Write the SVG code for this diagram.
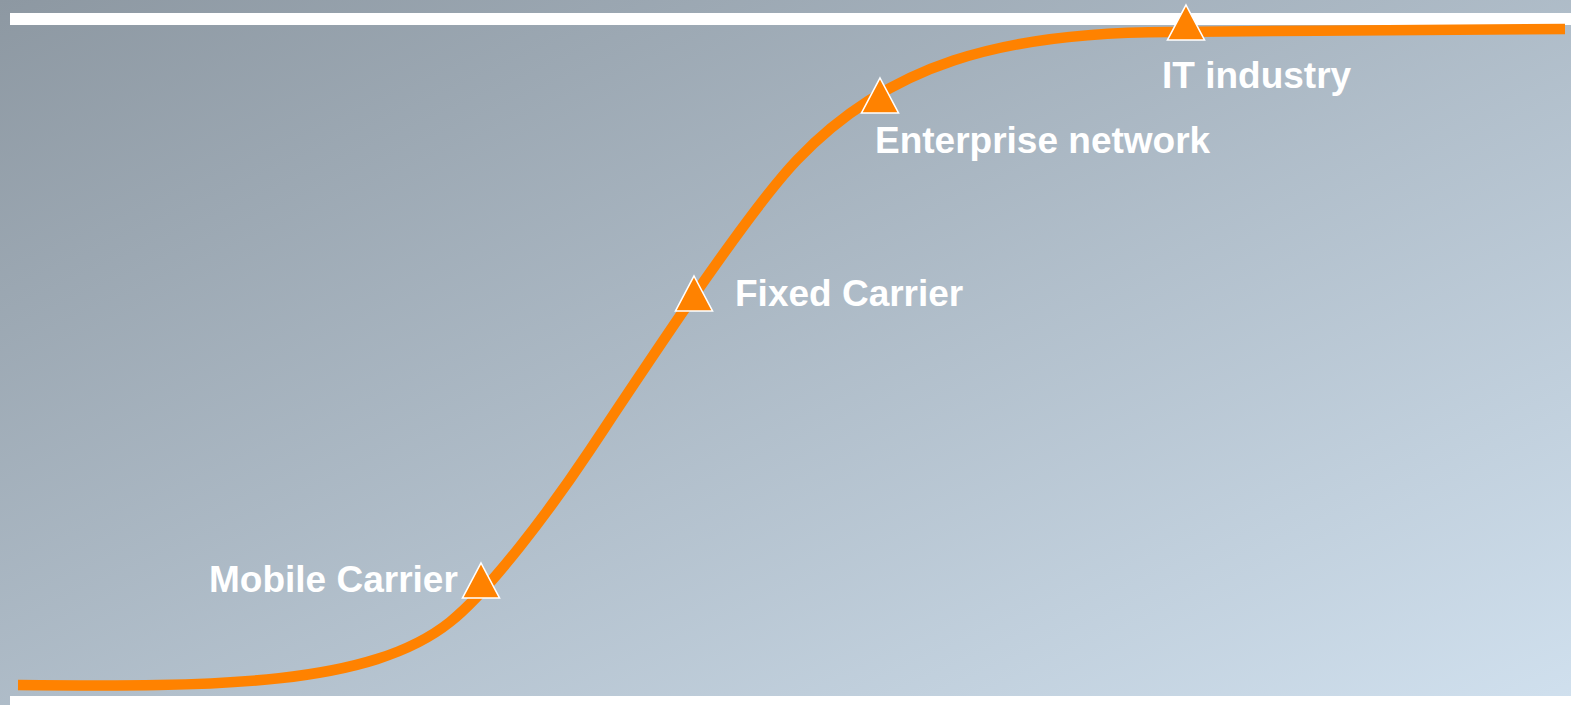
<svg xmlns="http://www.w3.org/2000/svg" width="1571" height="705" viewBox="0 0 1571 705">
  <defs>
    <linearGradient id="bg" x1="0" y1="0" x2="1" y2="1">
      <stop offset="0" stop-color="#8d98a2"/>
      <stop offset="1" stop-color="#d0e0ee"/>
    </linearGradient>
    <style>
      .bar { fill: #ffffff; }
      .curve { fill: none; stroke: #ff8200; stroke-width: 10.5; stroke-linecap: butt; }
      .tri { fill: #ff8200; stroke: #ffffff; stroke-width: 1.6; stroke-linejoin: miter; }
      .lbl { font-family: "Liberation Sans", Arial, sans-serif; font-weight: bold; font-size: 37px; fill: #ffffff; }
    </style>
  </defs>
  <rect x="0" y="0" width="1571" height="705" fill="url(#bg)"/>
  <rect class="bar" x="10" y="13" width="1561" height="12"/>
  <rect class="bar" x="10" y="696" width="1561" height="9"/>
  <g id="connectors">
    <path class="curve" d="M18,685 C218,687 370,686 450,622 C490,590 550,510 590,450 C650,360 747,212.5 797,160 C887,65.5 1000,32 1170,32 C1300,31 1450,29 1565,29"/>
  </g>
  <g id="mobile-carrier">
    <polygon class="tri" points="481,563 499.5,598 462.5,598"/>
    <text class="lbl" x="209" y="592">Mobile Carrier</text>
  </g>
  <g id="fixed-carrier">
    <polygon class="tri" points="694,276 712.5,311 675.5,311"/>
    <text class="lbl" x="735" y="306">Fixed Carrier</text>
  </g>
  <g id="enterprise-network">
    <polygon class="tri" points="880,78 898.5,113 861.5,113"/>
    <text class="lbl" x="875" y="153">Enterprise network</text>
  </g>
  <g id="it-industry">
    <polygon class="tri" points="1186,5 1204.5,40 1167.5,40"/>
    <text class="lbl" x="1162" y="88">IT industry</text>
  </g>
</svg>
